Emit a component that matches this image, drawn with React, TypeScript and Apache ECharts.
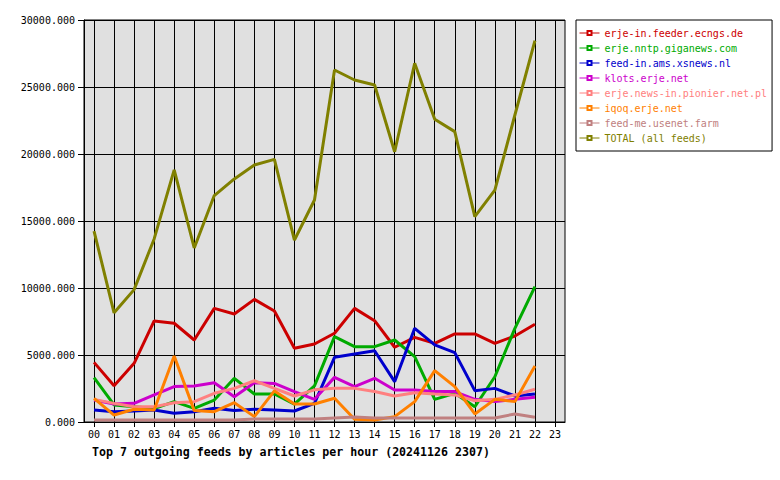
import React, { useEffect, useRef } from "react";
import * as echarts from "echarts";

const hours = ["00","01","02","03","04","05","06","07","08","09","10","11","12","13","14","15","16","17","18","19","20","21","22","23"];
const yTicks = [0, 5000, 10000, 15000, 20000, 25000, 30000];

const feedNames = [
  "erje-in.feeder.ecngs.de",
  "erje.nntp.giganews.com",
  "feed-in.ams.xsnews.nl",
  "klots.erje.net",
  "erje.news-in.pionier.net.pl",
  "iqoq.erje.net",
  "feed-me.usenet.farm",
  "TOTAL (all feeds)",
];
const feedColors = ["#cc0000", "#00aa00", "#0000cc", "#cc00cc", "#ff8080", "#ff8000", "#c08080", "#808000"];

const ecngs = [4450, 2710, 4380, 7540, 7370, 6120, 8480, 8060, 9150, 8280, 5500, 5820, 6620, 8480, 7560, 5580, 6320, 5870, 6570, 6570, 5870, 6420, 7290];
const giganews = [3310, 1270, 1140, 1000, 1520, 1020, 1640, 3260, 2090, 2090, 1340, 2700, 6370, 5620, 5620, 6120, 4880, 1690, 2140, 1140, 3380, 6990, 10100];
const xsnews = [900, 770, 830, 900, 650, 770, 1020, 850, 950, 900, 820, 1390, 4830, 5080, 5320, 3010, 6990, 5750, 5180, 2340, 2510, 1940, 2090];
const klots = [1640, 1340, 1390, 2020, 2640, 2690, 2930, 1890, 2930, 2880, 2270, 1690, 3330, 2640, 3260, 2390, 2390, 2270, 2270, 1690, 1520, 1690, 1840];
const pionier = [1690, 1390, 1140, 1140, 1440, 1520, 2140, 2510, 3080, 2510, 1940, 2400, 2510, 2510, 2270, 1940, 2190, 2090, 2020, 1590, 1690, 2020, 2440];
const iqoq = [1770, 520, 950, 900, 4930, 850, 770, 1440, 400, 2320, 1340, 1340, 1770, 200, 150, 400, 1520, 3830, 2640, 600, 1690, 1520, 4180];
const usenetFarm = [150, 150, 150, 150, 150, 150, 150, 150, 220, 220, 220, 220, 300, 380, 300, 300, 300, 300, 300, 300, 300, 600, 350];
const total = [14250, 8150, 9880, 13660, 18810, 12990, 16900, 18140, 19180, 19600, 13580, 16570, 26270, 25520, 25150, 20170, 26770, 22590, 21670, 15320, 17310, 22910, 28460];

const seriesValues = [ecngs, giganews, xsnews, klots, pionier, iqoq, usenetFarm, total];

const titleText = "Top 7 outgoing feeds by articles per hour (20241126 2307)";
const MONO = "'DejaVu Sans Mono', monospace";

export default function App() {
  const ref = useRef<HTMLDivElement>(null);
  useEffect(() => {
    if (!ref.current) return;
    const chart = echarts.init(ref.current, null, { renderer: "svg" });
    chart.setOption({
      animation: false,
      backgroundColor: "#ffffff",
      title: {
        text: titleText,
        left: 92,
        top: 446,
        padding: 0,
        textStyle: { fontFamily: MONO, fontSize: 11.6, fontWeight: "bold", color: "#000" },
      },
      legend: {
        orient: "vertical",
        left: 576,
        top: 20,
        padding: [7, 5, 7, 3],
        backgroundColor: "#ffffff",
        borderColor: "#000",
        borderWidth: 1,
        borderRadius: 0,
        itemWidth: 20,
        itemHeight: 5,
        itemGap: 3,
        lineStyle: { width: 1 },
        textStyle: { fontFamily: MONO, fontSize: 10, lineHeight: 12 },
        data: feedNames.map((n, i) => ({ name: n, textStyle: { color: feedColors[i] } })),
      },
      grid: {
        left: 84,
        top: 20,
        right: 215,
        bottom: 58,
        show: true,
        backgroundColor: "#e0e0e0",
        borderColor: "#000",
        borderWidth: 1,
      },
      xAxis: {
        type: "category",
        data: hours,
        boundaryGap: true,
        axisLine: { lineStyle: { color: "#000", width: 1 } },
        axisTick: { show: true, alignWithLabel: true, length: 5, lineStyle: { color: "#000" } },
        axisLabel: { fontFamily: MONO, fontSize: 10, color: "#000", margin: 7, interval: 0 },
        splitLine: { show: true, alignWithLabel: true, lineStyle: { color: "#000", width: 1 } },
      },
      yAxis: {
        type: "value",
        min: yTicks[0],
        max: yTicks[yTicks.length - 1],
        interval: yTicks[1] - yTicks[0],
        axisLine: { show: true, lineStyle: { color: "#000", width: 1 } },
        axisTick: { show: true, length: 6, lineStyle: { color: "#000" } },
        axisLabel: {
          fontFamily: MONO,
          fontSize: 10,
          color: "#000",
          margin: 9,
          formatter: (v: number) => v.toFixed(3),
        },
        splitLine: { show: true, lineStyle: { color: "#000", width: 1 } },
      },
      series: feedNames.map((n, i) => ({
        name: n,
        type: "line",
        data: seriesValues[i],
        symbol: "emptyRect",
        symbolSize: 4,
        showSymbol: false,
        lineStyle: { width: 3, color: feedColors[i] },
        itemStyle: { color: feedColors[i] },
      })),
    });
    return () => chart.dispose();
  }, []);
  return (
    <div
      ref={ref}
      style={{ position: "absolute", left: 0, top: 0, width: 780, height: 480 }}
    />
  );
}
